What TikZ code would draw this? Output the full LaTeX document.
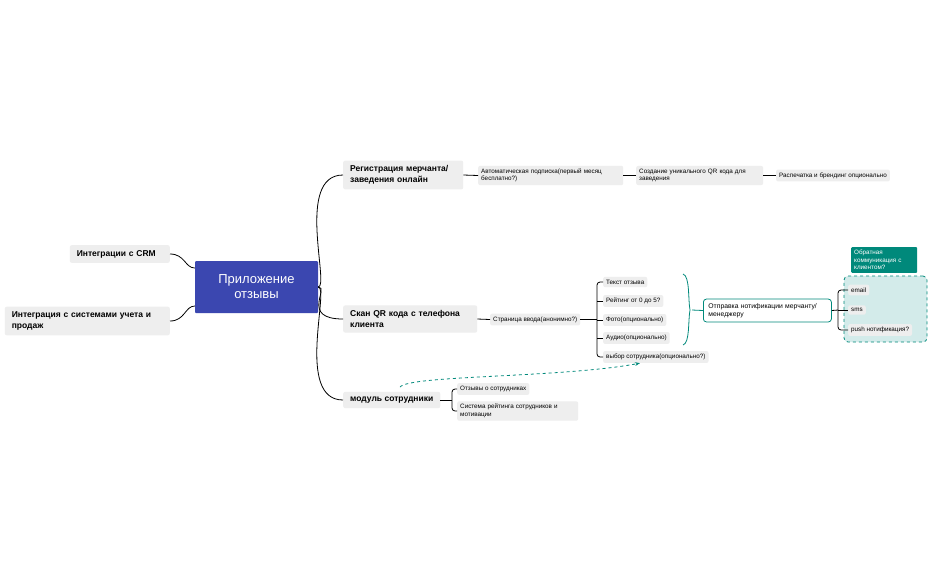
\documentclass[tikz,border=0pt]{standalone}
\usepackage{fontspec}
\setmainfont{Liberation Sans}
\usetikzlibrary{arrows.meta,decorations.pathreplacing}
\definecolor{boxg}{HTML}{EEEEEE}
\definecolor{teal1}{HTML}{00897B}
\definecolor{teall}{HTML}{D3EBEA}
\definecolor{cblue}{HTML}{3B47B0}
\tikzset{
 x=1pt,y=-1pt,
 leaf/.style={fill=boxg,rounded corners=2pt,font=\fontsize{6.3}{7.5}\selectfont,align=left,inner xsep=3pt,inner ysep=3pt,anchor=west},
 br/.style={fill=boxg,rounded corners=2pt,font=\fontsize{8.5}{11}\selectfont\bfseries,align=left,inner xsep=7pt,inner ysep=5pt,anchor=west},
 ln/.style={draw=black,line width=0.8pt},
 tl/.style={draw=teal1,line width=0.8pt}
}
\begin{document}
\begin{tikzpicture}
\useasboundingbox (0,0) rectangle (941,582);
\fill[white] (0,0) rectangle (941,582);
% central
\node[fill=cblue,text=white,minimum width=123pt,minimum height=52pt,align=center,font=\fontsize{13}{15}\selectfont,rounded corners=1pt] (c) at (256.5,287) {Приложение\\отзывы};
% left
\node[br,anchor=east,text width=86pt] (crm) at (170,254) {Интеграции с CRM};
\node[br,anchor=east,text width=151pt] (acc) at (170,321) {Интеграция с системами учета и\\продаж};
\draw[ln] (crm.east) .. controls (185,254) and (185,268) .. (c.west|-0,268);
\draw[ln] (acc.east) .. controls (185,321) and (185,306) .. (c.west|-0,306);
% branches
\node[br,text width=106pt] (reg) at (343,175) {Регистрация мерчанта/\\заведения онлайн};
\node[br,text width=120pt] (scan) at (343,319) {Скан QR кода с телефона\\клиента};
\node[br] (mod) at (343,400) {модуль сотрудники};
\draw[ln] (c.east) .. controls (330,287) and (295,175) .. (reg.west);
\draw[ln] (c.east) .. controls (330,287) and (300,319) .. (scan.west);
\draw[ln] (c.east) .. controls (330,287) and (295,400) .. (mod.west);
% row 1
\node[leaf,text width=139pt] (a1) at (478,175.5) {Автоматическая подписка(первый месяц\\бесплатно?)};
\node[leaf,text width=121pt] (a2) at (636,175.5) {Создание уникального QR кода для\\заведения};
\node[leaf] (a3) at (776,175.5) {Распечатка и брендинг опционально};
\draw[ln] (reg.east) -- (a1.west);
\draw[ln] (a1.east) -- (a2.west);
\draw[ln] (a2.east) -- (a3.west);
% scan
\node[leaf] (p) at (490,319.5) {Страница ввода(анонимно?)};
\draw[ln] (scan.east) -- (p.west);
\node[leaf] (t1) at (603,282) {Текст отзыва};
\node[leaf] (t2) at (603,301) {Рейтинг от 0 до 5?};
\node[leaf] (t3) at (603,320) {Фото(опционально)};
\node[leaf] (t4) at (603,338) {Аудио(опционально)};
\node[leaf] (t5) at (603,357) {выбор сотрудника(опционально?)};
\coordinate (pb) at (597,319.5);
\draw[ln] (p.east) -- (pb);
\draw[ln,rounded corners=3pt] (t1.west) -- (597,282) -- (597,357) -- (t5.west);
\foreach \n in {t2,t3,t4} \draw[ln] (597,0|-\n.west) -- (\n.west);
% brace
\draw[tl] (683,274) .. controls (690,276) and (688,300) .. (690,310) .. controls (688,320) and (690,343) .. (683,345);
\node[draw=teal1,line width=0.8pt,fill=white,rounded corners=3pt,font=\fontsize{6.8}{8.5}\selectfont,align=left,text width=118pt,inner xsep=5pt,inner ysep=4pt,anchor=west] (n) at (703,310.5) {Отправка нотификации мерчанту/\\менеджеру};
\coordinate (bt) at (692,310);
\draw[tl] (bt) -- (n.west);
% feedback group
\node[draw=teal1,dashed,line width=0.8pt,fill=teall,rounded corners=4pt,minimum width=83pt,minimum height=66pt] (grp) at (885.5,309) {};
\node[fill=teal1,text=white,font=\fontsize{6.3}{7.5}\selectfont,align=left,text width=60pt,inner xsep=3pt,inner ysep=3pt,rounded corners=1pt,anchor=north west] (hd) at (851,247) {Обратная\\коммуникация с\\клиентом?};
\node[leaf] (e1) at (848,290) {email};
\node[leaf] (e2) at (848,310) {sms};
\node[leaf] (e3) at (848,330) {push нотификация?};
\draw[ln] (n.east) -- (838,310);
\draw[ln,rounded corners=3pt] (e1.west) -- (838,290) -- (838,330) -- (e3.west);
\draw[ln] (838,310) -- (e2.west);
% module
\node[leaf] (m1) at (457,389) {Отзывы о сотрудниках};
\node[leaf,text width=115pt] (m2) at (457,411) {Система рейтинга сотрудников и\\мотивации};
\draw[ln] (mod.east) -- (452,400);
\draw[ln,rounded corners=3pt] (m1.west) -- (452,389) -- (452,411) -- (m2.west);
\coordinate (ds) at (400,387);
\draw[teal1,dashed,line width=0.8pt,-{Stealth[length=5pt]}] (ds) .. controls (410,375) and (560,378) .. (t5.south west-|640,0) ;
\end{tikzpicture}
\end{document}
